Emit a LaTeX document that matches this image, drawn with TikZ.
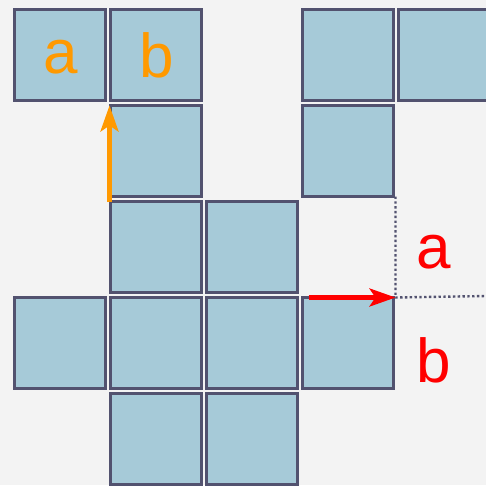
\documentclass[tikz,border=0pt]{standalone}
\usepackage{fontspec}
\setmainfont{Liberation Sans}
\usetikzlibrary{arrows.meta, positioning, calc}

\definecolor{tilefill}{HTML}{A6CAD8}
\definecolor{tileedge}{HTML}{52526F}
\definecolor{paper}{HTML}{F3F3F3}
\definecolor{lblorange}{HTML}{FF9900}

\begin{document}
\begin{tikzpicture}[
    x=1pt, y=-1pt,
    >=Stealth,
    % Tile and label styles
    tile/.style={rectangle, draw=tileedge, fill=tilefill, line width=3pt, minimum size=91pt, inner sep=0pt, outer sep=0pt},
    big_lbl/.style={font=\fontsize{62}{62}\selectfont, inner sep=0pt},
    move_arrow/.style={line width=4.2pt, -{Stealth[length=26pt, width=18pt, inset=6pt]}},
    guide/.style={draw=tileedge, line width=2.4pt, dash pattern=on 2.4pt off 2.4pt}
]

    % Background and clipping to frame
    \fill[paper] (0,0) rectangle (486,485);
    \clip (0,0) rectangle (486,485);
    \useasboundingbox (0,0) rectangle (486,485);

    % Grid pitch
    \newcommand{\pitch}{96}

    % --- Tiles: row/column ---
    \foreach \r/\c in {0/0, 0/1, 0/3, 0/4, 1/1, 1/3, 2/1, 2/2, 3/0, 3/1, 3/2, 3/3, 4/1, 4/2} {
        \node[tile] (t\r\c) at (60+\c*\pitch, 55+\r*\pitch) {};
    }

    % --- Letters on the top tiles ---
    \node[big_lbl, text=lblorange] (la) at ($(t00)+(1,2)$) {a};
    \node[big_lbl, text=lblorange] (lb) at ($(t01)+(1,0)$) {b};

    % --- Orange move (upwards) ---
    \coordinate (o_start) at ($(t21.north west)+(-1,0)$);
    \coordinate (o_end) at ($(t11.north west)+(-1,0)$);
    \draw[move_arrow, lblorange] (o_start) -- (o_end);

    % --- Dotted guide lines ---
    \coordinate (g_top) at ($(t13.south east)+(2,0)$);
    \coordinate (g_mid) at ($(t33.north east)+(2,0)$);
    \coordinate (g_end) at (486, 296);
    \draw[guide] (g_top) -- (g_mid) -- (g_end);

    % --- Red move (to the right) ---
    \coordinate (r_start) at ($(t33.north west)+(6,0)$);
    \draw[move_arrow, red] (r_start) -- (g_mid);

    % --- Letters beside the guide ---
    \node[big_lbl, text=red] (ra) at (434, 252) {a};
    \node[big_lbl, text=red] (rb) at (434, 360) {b};

\end{tikzpicture}
\end{document}
